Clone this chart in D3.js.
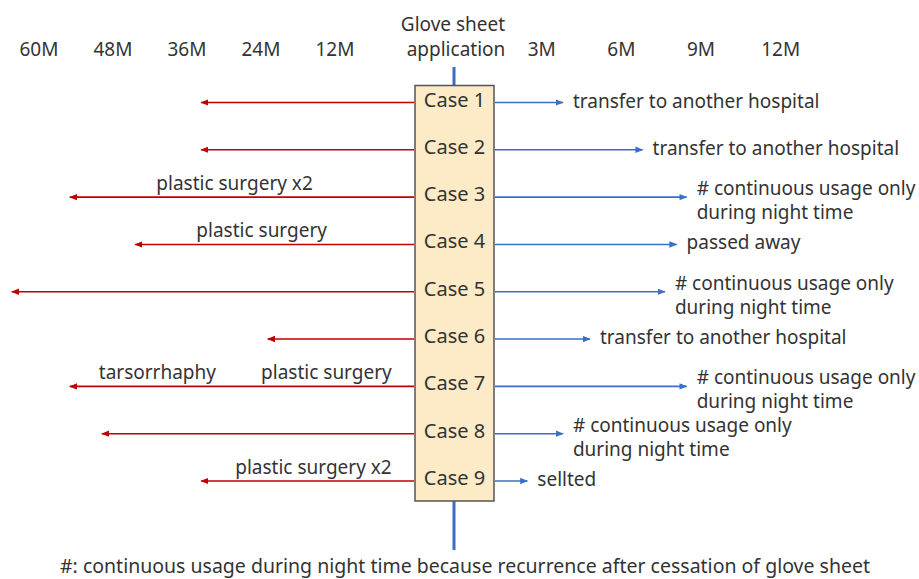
<!DOCTYPE html>
<html>
<head>
  <meta charset="utf-8">
  <title>Glove sheet timeline</title>
  <script src="https://d3js.org/d3.v7.min.js"></script>
  <style>
    body { margin: 0; background: #fff; }
    text { font-family: "Noto Sans", sans-serif; fill: #333; }
  </style>
</head>
<body>
  <div id="chart"></div>
  <script>
    // Data
    var cases = ["Case 1", "Case 2", "Case 3", "Case 4", "Case 5", "Case 6", "Case 7", "Case 8", "Case 9"];
    // months before glove sheet application (left, red)
    var beforeMonths = [33.7, 33.7, 55, 44.4, 64.4, 22.9, 55, 49.8, 33.7];
    // months after glove sheet application (right, blue)
    var afterMonths = [3.8, 6.8, 8.46, 8.08, 7.64, 4.82, 8.46, 3.8, 2.46];
    var outcomes = [
      "transfer to another hospital",
      "transfer to another hospital",
      "# continuous usage only\nduring night time",
      "passed away",
      "# continuous usage only\nduring night time",
      "transfer to another hospital",
      "# continuous usage only\nduring night time",
      "# continuous usage only\nduring night time",
      "sellted"
    ];
    // events before application: case, label, month of event
    var eventCases = ["Case 3", "Case 4", "Case 7", "Case 7", "Case 9"];
    var eventLabels = ["plastic surgery x2", "plastic surgery", "tarsorrhaphy", "plastic surgery", "plastic surgery x2"];
    var eventMonths = [15.6, 13.3, 31.3, 2.8, 2.8];
    var beforeTicks = [60, 48, 36, 24, 12];
    var afterTicks = [3, 6, 9, 12];
    var footnote = "#: continuous usage during night time because recurrence after cessation of glove sheet";

    var width = 919, height = 579;
    var red = "#c00000", blue = "#3a6fc4";
    var fs = 19;

    var svg = d3.select("#chart").append("svg")
      .attr("width", width)
      .attr("height", height);

    var y = d3.scalePoint().domain(cases).range([102.5, 481]);
    var xLeft = d3.scaleLinear().domain([0, 60]).range([409, 39]);
    var xRight = d3.scaleLinear().domain([3, 12]).range([541.7, 780.7]);

    var boxLeft = 415, boxRight = 494, centerX = 454;
    var boxTop = y(cases[0]) - 17, boxBottom = y(cases[cases.length - 1]) + 20;

    // arrow markers
    var defs = svg.append("defs");
    [["redHead", red], ["blueHead", blue]].forEach(function(m) {
      defs.append("marker")
        .attr("id", m[0])
        .attr("viewBox", "0 0 10 10")
        .attr("refX", 9).attr("refY", 5)
        .attr("markerWidth", 5).attr("markerHeight", 5)
        .attr("orient", "auto-start-reverse")
        .append("path")
        .attr("d", "M0,1 L10,5 L0,9 Z")
        .attr("fill", m[1]);
    });

    // central vertical line
    svg.append("line")
      .attr("x1", centerX).attr("x2", centerX)
      .attr("y1", 67).attr("y2", 550)
      .attr("stroke", blue).attr("stroke-width", 3);

    // header
    svg.append("text").attr("x", centerX - 1).attr("y", 31)
      .attr("text-anchor", "middle").attr("font-size", fs).text("Glove sheet");
    svg.append("text").attr("x", centerX + 2).attr("y", 56)
      .attr("text-anchor", "middle").attr("font-size", fs).text("application");

    // tick labels
    svg.selectAll(".tickL").data(beforeTicks).enter().append("text")
      .attr("x", function(d) { return xLeft(d); })
      .attr("y", 56)
      .attr("text-anchor", "middle").attr("font-size", fs)
      .text(function(d) { return d + "M"; });
    svg.selectAll(".tickR").data(afterTicks).enter().append("text")
      .attr("x", function(d) { return xRight(d); })
      .attr("y", 56)
      .attr("text-anchor", "middle").attr("font-size", fs)
      .text(function(d) { return d + "M"; });

    // red arrows (before)
    svg.selectAll(".before").data(cases).enter().append("line")
      .attr("x1", boxLeft - 1)
      .attr("x2", function(d, i) { return xLeft(beforeMonths[i]); })
      .attr("y1", function(d) { return y(d); })
      .attr("y2", function(d) { return y(d); })
      .attr("stroke", red).attr("stroke-width", 1.6)
      .attr("marker-end", "url(#redHead)");

    // blue arrows (after)
    svg.selectAll(".after").data(cases).enter().append("line")
      .attr("x1", boxRight + 1)
      .attr("x2", function(d, i) { return xRight(afterMonths[i]); })
      .attr("y1", function(d) { return y(d); })
      .attr("y2", function(d) { return y(d); })
      .attr("stroke", blue).attr("stroke-width", 1.6)
      .attr("marker-end", "url(#blueHead)");

    // box
    svg.append("rect")
      .attr("x", boxLeft).attr("y", boxTop)
      .attr("width", boxRight - boxLeft).attr("height", boxBottom - boxTop)
      .attr("fill", "#fdeac6").attr("stroke", "#555").attr("stroke-width", 1.5);

    svg.selectAll(".case").data(cases).enter().append("text")
      .attr("x", (boxLeft + boxRight) / 2)
      .attr("y", function(d) { return y(d) + 4; })
      .attr("text-anchor", "middle").attr("font-size", 20)
      .text(function(d) { return d; });

    // outcome labels
    svg.selectAll(".outcome").data(cases).enter().append("text")
      .attr("x", function(d, i) { return xRight(afterMonths[i]) + 10; })
      .attr("y", function(d, i) {
        return outcomes[i].indexOf("\n") >= 0 ? y(d) - 2 : y(d) + 5;
      })
      .attr("font-size", fs)
      .each(function(d, i) {
        var lines = outcomes[i].split("\n");
        var t = d3.select(this);
        lines.forEach(function(l, k) {
          t.append("tspan")
            .attr("x", xRight(afterMonths[i]) + 10)
            .attr("dy", k === 0 ? 0 : 24)
            .text(l);
        });
      });

    // event labels above red arrows
    svg.selectAll(".event").data(eventLabels).enter().append("text")
      .attr("x", function(d, i) { return xLeft(eventMonths[i]); })
      .attr("y", function(d, i) { return y(eventCases[i]) - 7; })
      .attr("text-anchor", "end").attr("font-size", fs)
      .text(function(d) { return d; });

    // footnote
    svg.append("text")
      .attr("x", 465).attr("y", 573)
      .attr("text-anchor", "middle").attr("font-size", 19.5)
      .text(footnote);
  </script>
</body>
</html>
